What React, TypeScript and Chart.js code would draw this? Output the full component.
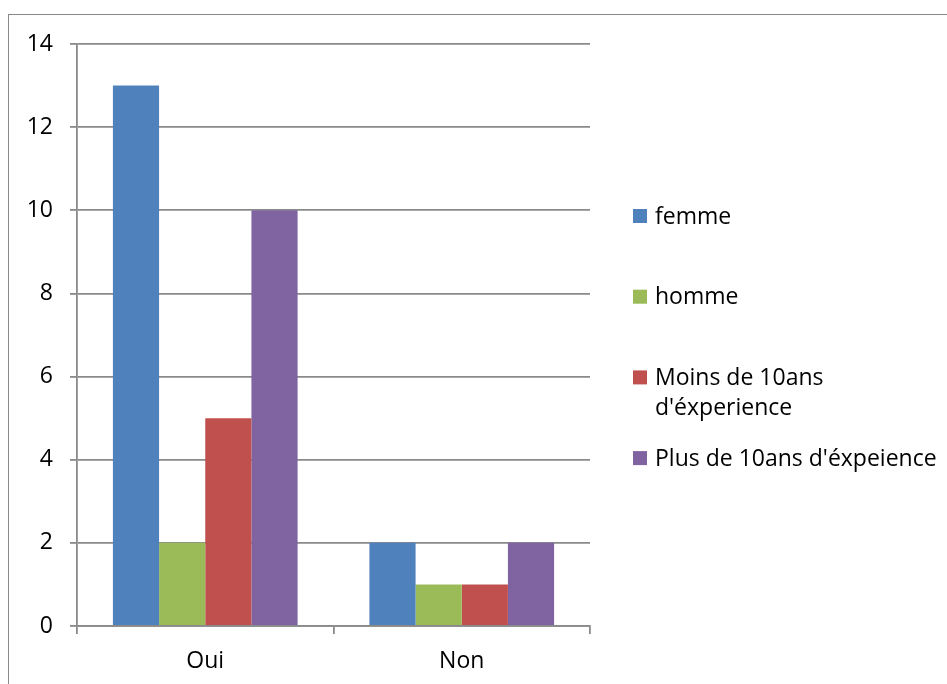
import React, { useEffect, useRef } from "react";
import { Chart, registerables } from "chart.js";

Chart.register(...registerables);

const categories = ["Oui", "Non"];
const seriesNames: (string | string[])[] = [
  "femme",
  "homme",
  ["Moins de 10ans", "d'éxperience"],
  "Plus de 10ans d'éxpeience",
];
const femme = [13, 2];
const homme = [2, 1];
const moins10 = [5, 1];
const plus10 = [10, 2];
const seriesColors = ["#4F81BD", "#9BBB59", "#C0504D", "#8064A2"];
const yTicks = [0, 2, 4, 6, 8, 10, 12, 14];

const FONT = "'Open Sans', 'Liberation Sans', sans-serif";
const FONT_SIZE = 23;
const GRID = "#8a8a8a";

// Legend drawn on the right side, one entry per dataset, with wrapped labels.
const sideLegend = {
  id: "sideLegend",
  afterDraw(chart: any) {
    const ctx = chart.ctx;
    ctx.save();
    ctx.font = `${FONT_SIZE}px ${FONT}`;
    ctx.textBaseline = "middle";
    const x0 = 633;
    const startY = 216;
    const step = 80.7;
    chart.data.datasets.forEach((ds: any, i: number) => {
      const cy = startY + i * step;
      ctx.fillStyle = ds.backgroundColor;
      ctx.fillRect(x0, cy - 7, 14, 14);
      ctx.fillStyle = "#000";
      const lines = Array.isArray(ds.label) ? ds.label : [ds.label];
      lines.forEach((t: string, j: number) => {
        ctx.fillText(t, x0 + 22, cy + 1 + j * 30);
      });
    });
    ctx.restore();
  },
};

export default function App() {
  const ref = useRef<HTMLCanvasElement | null>(null);

  useEffect(() => {
    if (!ref.current) return;
    const values = [femme, homme, moins10, plus10];
    const chart = new Chart(ref.current, {
      type: "bar",
      data: {
        labels: categories,
        datasets: values.map((v, i) => ({
          label: seriesNames[i] as any,
          data: v,
          backgroundColor: seriesColors[i],
          borderWidth: 0,
          categoryPercentage: 0.72,
          barPercentage: 1,
        })),
      },
      options: {
        animation: false,
        responsive: false,
        maintainAspectRatio: false,
        layout: { padding: { left: 0, top: 44, right: 357, bottom: 0 } },
        plugins: {
          legend: { display: false },
          tooltip: { enabled: false },
        },
        scales: {
          x: {
            grid: {
              display: true,
              drawOnChartArea: false,
              drawTicks: true,
              tickLength: 8,
              color: GRID,
              lineWidth: 1.8,
              offset: true,
            },
            border: { color: GRID, width: 1.8 },
            ticks: {
              color: "#000",
              font: { family: FONT, size: FONT_SIZE },
              padding: 14,
            },
            afterFit(scale: any) {
              scale.height = 58;
            },
          },
          y: {
            min: 0,
            max: 14,
            afterBuildTicks(scale: any) {
              scale.ticks = yTicks.map((v) => ({ value: v }));
            },
            grid: {
              color: GRID,
              lineWidth: 1.8,
              tickLength: 7,
            },
            border: { color: GRID, width: 1.8 },
            ticks: {
              color: "#000",
              font: { family: FONT, size: FONT_SIZE },
              padding: 17,
            },
            afterFit(scale: any) {
              scale.width = 77;
            },
          },
        },
      },
      plugins: [sideLegend],
    });
    return () => chart.destroy();
  }, []);

  return (
    <div>
      <div
        style={{
          position: "absolute",
          left: 8,
          top: 14,
          right: 0,
          bottom: 0,
          borderLeft: `1.5px solid ${GRID}`,
          borderTop: `1.5px solid ${GRID}`,
        }}
      />
      <canvas
        ref={ref}
        width={947}
        height={684}
        style={{ position: "absolute", left: 0, top: 0 }}
      />
    </div>
  );
}
